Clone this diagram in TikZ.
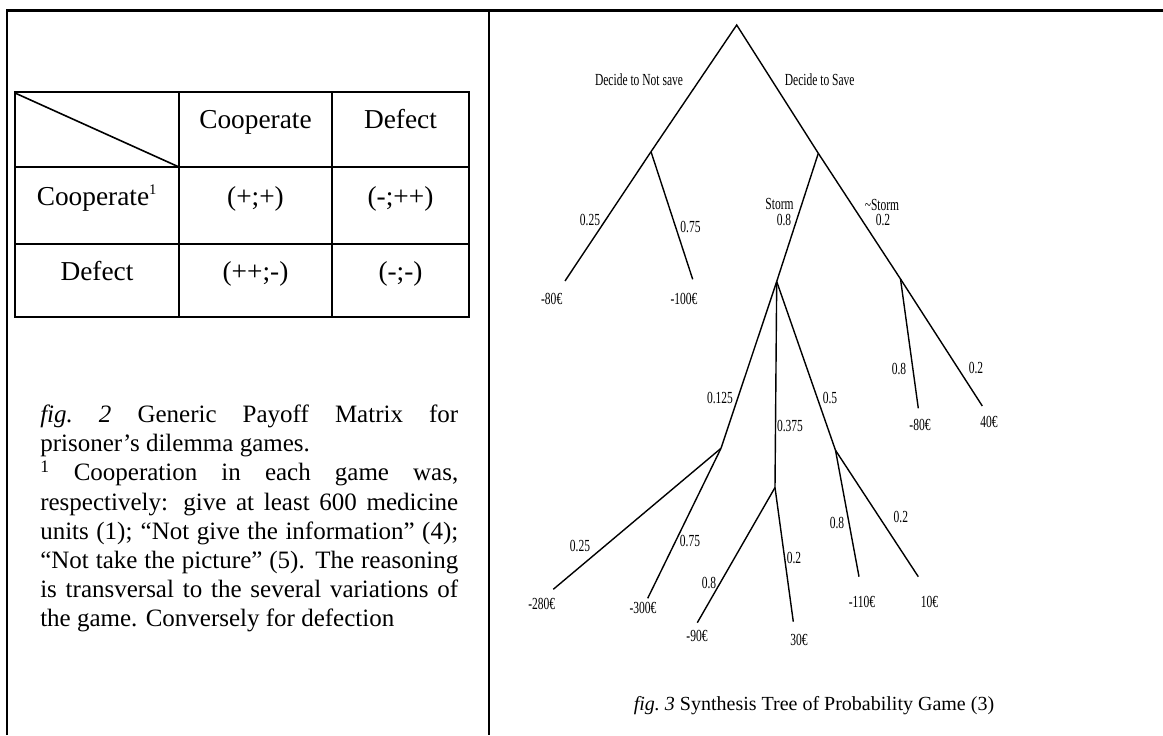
\documentclass[tikz,border=0pt]{standalone}
\usepackage{fontspec}
\usepackage{graphicx}
\setmainfont{Liberation Serif}
\newcommand{\cnd}[1]{\scalebox{0.68}[1]{#1}}
\hbadness=10000
\tikzset{
  frame/.style={line width=1.6pt, black},
  tbl/.style={line width=1.2pt, black},
  branch/.style={line width=1.05pt, black},
  celltext/.style={anchor=base, inner sep=0pt, font=\fontsize{20.5}{24}\selectfont},
  tlabel/.style={anchor=center, inner sep=0pt, font=\fontsize{12.7}{14}\selectfont},
}
\begin{document}
\begin{tikzpicture}[x=0.75pt,y=-0.75pt]
\useasboundingbox (0,0) rectangle (1163,735);
% frame
\draw[frame] (7,735) -- (7,10.5) -- (1163,10.5);
\draw[frame] (489,10.5) -- (489,735);
% table
\draw[tbl] (15,92) rectangle (469,317);
\draw[tbl] (179,92) -- (179,317);
\draw[tbl] (332,92) -- (332,317);
\draw[tbl] (15,167) -- (469,167);
\draw[tbl] (15,244) -- (469,244);
\draw[tbl] (15,93) -- (179,167);
\node[celltext] (h1) at (255.5,128) {Cooperate};
\node[celltext] (h2) at (400.5,128) {Defect};
\node[celltext] (r1) at (97,205) {Cooperate\textsuperscript{\fontsize{11}{12}\selectfont 1}};
\node[celltext] (r2) at (97,280) {Defect};
\node[celltext] (c11) at (255.5,205) {(+;+)};
\node[celltext] (c12) at (400.5,205) {(-;++)};
\node[celltext] (c21) at (255.5,280) {(++;-)};
\node[celltext] (c22) at (400.5,280) {(-;-)};
% caption fig 2
\node[anchor=base west, inner sep=0pt] (cap2) at (40,422.7) {\parbox[t]{313.5pt}{\fontsize{18.75}{21.85}\selectfont\parindent=0pt
\textit{fig.\ 2} Generic Payoff Matrix for\linebreak
prisoner’s dilemma games.\\
\textsuperscript{1} Cooperation in each game was,\linebreak
respectively: give at least 600 medicine\linebreak
units (1); “Not give the information” (4);\linebreak
“Not take the picture” (5). The reasoning\linebreak
is transversal to the several variations of\linebreak
the game. Conversely for defection}};
% tree coordinates
\coordinate (root) at (736.7,25);
\coordinate (ns) at (651,151.7);
\coordinate (sv) at (818.3,153.3);
\coordinate (st) at (776.7,281.5);
\coordinate (nst) at (900.5,279);
\coordinate (a) at (721,448.3);
\coordinate (b) at (775,487.5);
\coordinate (c) at (835.5,450.3);
\coordinate (l1) at (565,281);
\coordinate (l2) at (692.7,279.3);
\coordinate (l3) at (918.3,408.3);
\coordinate (l4) at (982.3,406);
\coordinate (l5) at (553.3,589.3);
\coordinate (l6) at (647.7,598.3);
\coordinate (l7) at (697.3,622.7);
\coordinate (l8) at (793.3,621.7);
\coordinate (l9) at (859,576.7);
\coordinate (l10) at (918.3,576.7);
% branches
\draw[branch] (ns) -- (root) -- (sv);
\draw[branch] (ns) -- (l1);
\draw[branch] (ns) -- (l2);
\draw[branch] (sv) -- (st);
\draw[branch] (sv) -- (nst);
\draw[branch] (st) -- (a);
\draw[branch] (st) -- (b);
\draw[branch] (st) -- (c);
\draw[branch] (nst) -- (l3);
\draw[branch] (nst) -- (l4);
\draw[branch] (a) -- (l5);
\draw[branch] (a) -- (l6);
\draw[branch] (b) -- (l7);
\draw[branch] (b) -- (l8);
\draw[branch] (c) -- (l9);
\draw[branch] (c) -- (l10);
% branch labels
\node[tlabel] (tns) at (639,80) {\cnd{Decide to Not save}};
\node[tlabel] (tsv) at (819.7,80) {\cnd{Decide to Save}};
\node[tlabel] (p1) at (590,220) {\cnd{0.25}};
\node[tlabel] (p2) at (690.5,226.7) {\cnd{0.75}};
\node[tlabel] (tst) at (779.5,204) {\cnd{Storm}};
\node[tlabel] (pst) at (784,220) {\cnd{0.8}};
\node[tlabel] (tnst) at (882,205) {\cnd{\textasciitilde Storm}};
\node[tlabel] (pnst) at (883,220) {\cnd{0.2}};
\node[tlabel] (pa) at (720,398.3) {\cnd{0.125}};
\node[tlabel] (pb) at (790,426) {\cnd{0.375}};
\node[tlabel] (pc) at (830,398) {\cnd{0.5}};
\node[tlabel] (p3) at (899,369) {\cnd{0.8}};
\node[tlabel] (p4) at (976,368) {\cnd{0.2}};
\node[tlabel] (p5) at (580,546) {\cnd{0.25}};
\node[tlabel] (p6) at (690,540.7) {\cnd{0.75}};
\node[tlabel] (p7) at (709,582.7) {\cnd{0.8}};
\node[tlabel] (p8) at (794,558.3) {\cnd{0.2}};
\node[tlabel] (p9) at (837,522.7) {\cnd{0.8}};
\node[tlabel] (p10) at (900.8,517.3) {\cnd{0.2}};
% leaf values
\node[tlabel] (v1) at (551.7,299.3) {\cnd{-80€}};
\node[tlabel] (v2) at (684,299.3) {\cnd{-100€}};
\node[tlabel] (v3) at (920,425) {\cnd{-80€}};
\node[tlabel] (v4) at (989,421.7) {\cnd{40€}};
\node[tlabel] (v5) at (541.7,604.3) {\cnd{-280€}};
\node[tlabel] (v6) at (643,608.3) {\cnd{-300€}};
\node[tlabel] (v7) at (697,636) {\cnd{-90€}};
\node[tlabel] (v8) at (799,640) {\cnd{30€}};
\node[tlabel] (v9) at (862,601.7) {\cnd{-110€}};
\node[tlabel] (v10) at (929.5,601.7) {\cnd{10€}};
% caption fig 3
\node[anchor=base, inner sep=0pt, font=\fontsize{15}{18}\selectfont] (cap3) at (814,710) {\textit{fig.\ 3} Synthesis Tree of Probability Game (3)};
\end{tikzpicture}
\end{document}
